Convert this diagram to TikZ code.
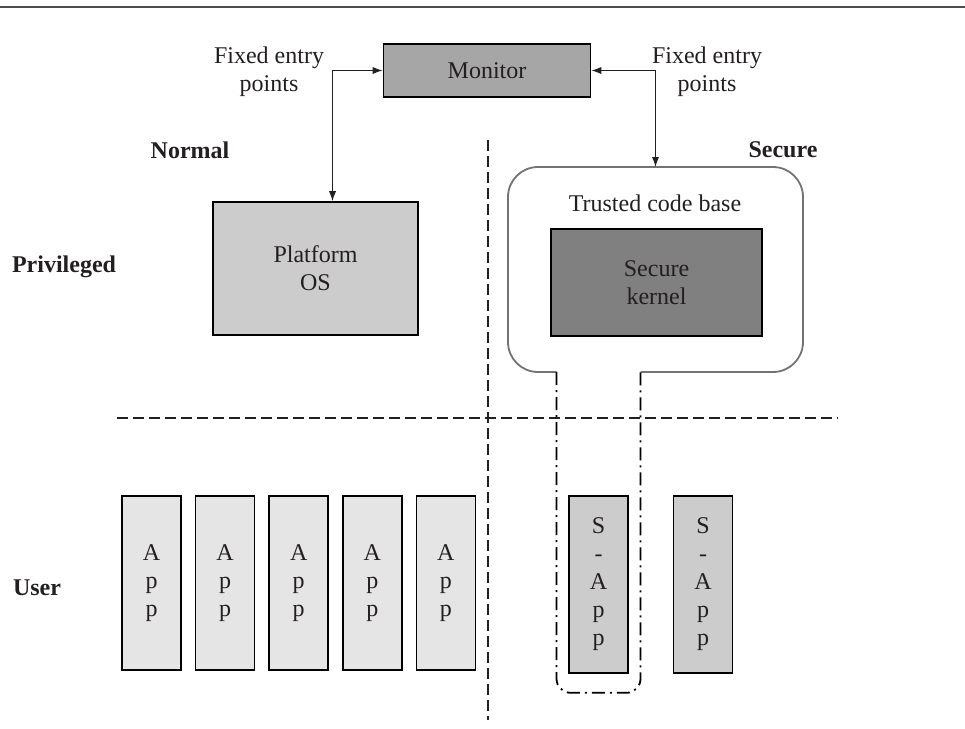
\documentclass[tikz,border=0pt]{standalone}
\usepackage{fontspec}
\setmainfont{Liberation Serif}
\usetikzlibrary{positioning, arrows.meta, calc}

\definecolor{inkgray}{HTML}{231F20}

\begin{document}
\begin{tikzpicture}[
  x=0.5pt, y=-0.5pt,
  font=\fontsize{12pt}{14pt}\selectfont,
  text=inkgray,
  box/.style={draw=black, line width=0.8pt, align=center, inner sep=0pt},
  appbox/.style={box, fill=black!10, minimum width=29.5pt, minimum height=87pt},
  sappbox/.style={box, fill=black!20, minimum width=29.5pt, minimum height=88.5pt},
  link/.style={{Latex[length=5pt,width=3.6pt]}-{Latex[length=5pt,width=3.6pt]},
    line width=0.6pt, draw=inkgray},
  divider/.style={line width=0.7pt, draw=inkgray, dash pattern=on 5.5pt off 2.5pt},
  tcbline/.style={draw=black!55, line width=0.9pt, rounded corners=15pt},
  tcbdash/.style={draw=black, line width=0.9pt, rounded corners=7pt,
    dash pattern=on 6.5pt off 2.5pt on 1pt off 2.5pt},
  region/.style={font=\fontsize{12pt}{14pt}\selectfont\bfseries},
  tag/.style={align=center},
]
  \useasboundingbox (0,0) rectangle (965,729);
  \draw[line width=1pt, black!70] (0,7) -- (965,7);

  % top: monitor and the two worlds
  \node[box, fill=black!35, minimum width=103.5pt, minimum height=26.5pt] (monitor) at (487,70.5) {Monitor};
  \node[tag] (entryL) at (269,72) {Fixed entry\\points};
  \node[tag] (entryR) at (707,72) {Fixed entry\\points};

  \node[region] (normal) at (190,150) {Normal};
  \node[region] (secure) at (783,150) {Secure};
  \node[region] (priv)   at (64,267)  {Privileged};
  \node[region] (user)   at (37,588)  {User};

  \node[box, fill=black!20, minimum width=102.5pt, minimum height=66.5pt] (plat) at (315.5,268.5) {Platform\\OS};

  \node[minimum width=147.5pt, minimum height=102.5pt, inner sep=0pt, outer sep=0pt] (tcb) at (655.5,269.5) {};
  \node (tcblabel) at (655,203) {Trusted code base};
  \node[box, fill=black!50, minimum width=105.5pt, minimum height=53.5pt] (kernel) at (656.5,282.5) {Secure\\kernel};

  % user level apps
  \node[appbox] (app1) at (151.5,583) {A\\p\\p};
  \node[appbox, right=6.5pt of app1] (app2) {A\\p\\p};
  \node[appbox, right=6.5pt of app2] (app3) {A\\p\\p};
  \node[appbox, right=6.5pt of app3] (app4) {A\\p\\p};
  \node[appbox, right=6.5pt of app4] (app5) {A\\p\\p};

  \node[sappbox] (sapp1) at (598.5,584.5) {S\\-\\A\\p\\p};
  \node[sappbox, right=22pt of sapp1] (sapp2) {S\\-\\A\\p\\p};

  % trusted code base outline, opened down to the first S-App
  \coordinate (gapL) at ($(sapp1.center |- tcb.south)+(-21pt,0)$);
  \coordinate (gapR) at ($(sapp1.center |- tcb.south)+(21pt,0)$);
  \draw[tcbline] (gapL) -- (tcb.south west) -- (tcb.north west)
    -- (tcb.north east) -- (tcb.south east) -- (gapR);
  \draw[tcbdash] (gapL) -- ($(gapL |- sapp1.south)+(0,-9.5pt)$)
    -- ($(gapR |- sapp1.south)+(0,-9.5pt)$) -- (gapR);

  \draw[divider] (488,140) -- (488,720);
  \draw[divider] (117,418) -- (838,418);

  \draw[link] (monitor.west) -| ([xshift=8.5pt]plat.north);
  \draw[link] (monitor.east) -| (tcb.north);
\end{tikzpicture}
\end{document}
